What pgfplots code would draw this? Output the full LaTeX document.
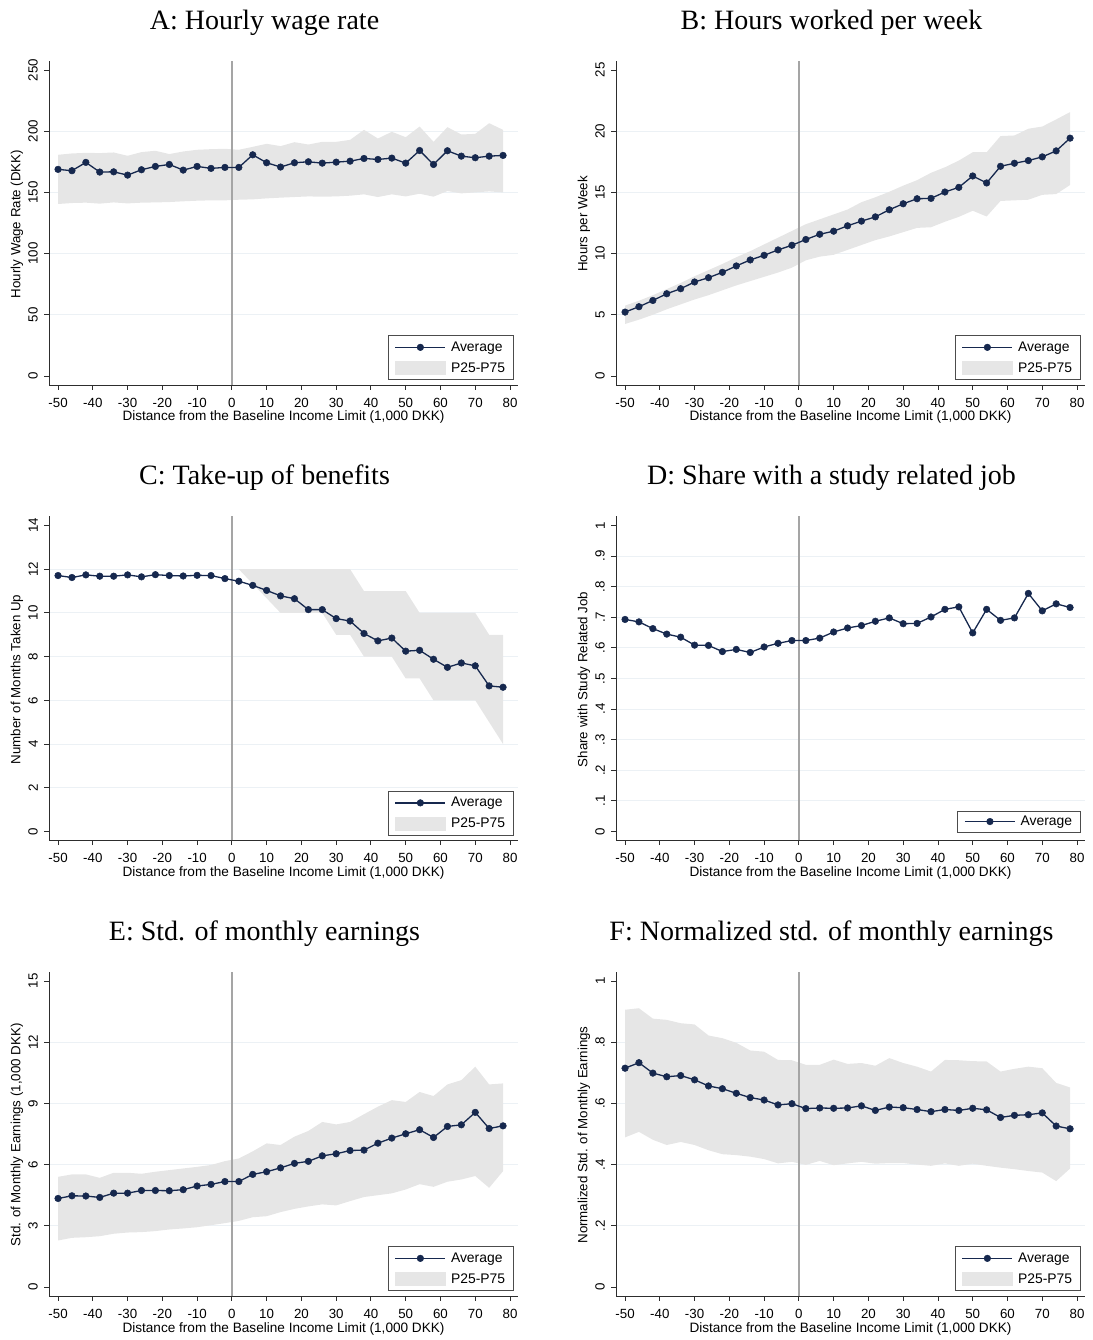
\documentclass[border=0pt]{standalone}
\usepackage{pgfplots}
\pgfplotsset{compat=1.18}
\usepackage{pgfplotstable}
\usepgfplotslibrary{fillbetween}
\usepackage{fontspec}
\setmainfont{Liberation Sans}
\newfontfamily\ttlfont{Liberation Serif}
\newcommand\tickfont{\fontsize{13.3}{15}\selectfont}
\newcommand\xlabfont{\fontsize{13.6}{15}\selectfont}
\newcommand\legfont{\fontsize{13.9}{15}\selectfont}

\definecolor{navyc}{RGB}{22,40,78}
\definecolor{bandc}{RGB}{230,230,230}
\definecolor{gridc}{RGB}{236,241,245}
\definecolor{zeroc}{RGB}{165,165,165}
\definecolor{axc}{RGB}{45,45,45}

\pgfplotstableread{
x avg lo hi
-50 168.8 140.5 180.7
-46 167.7 141.3 181.8
-42 174.5 141.6 182.3
-38 166.6 140.8 182.1
-34 166.8 141.8 182.6
-30 164.1 141.0 179.9
-26 168.5 141.6 182.9
-22 171.2 141.8 184.0
-18 172.8 142.1 181.3
-14 168.2 142.7 183.4
-10 171.2 143.2 184.8
-6 169.6 143.5 185.3
-2 170.4 143.5 185.6
2 170.4 144.0 184.8
6 180.7 144.3 187.2
10 174.2 145.1 189.7
14 170.7 145.7 187.8
18 174.2 146.2 191.0
22 175.0 146.7 189.1
26 173.9 146.5 191.3
30 174.7 146.7 191.3
34 175.5 147.3 192.9
38 177.7 148.4 201.1
42 176.9 146.2 194.0
46 178.0 148.4 199.5
50 173.9 146.7 195.1
54 184.2 148.9 203.8
58 172.8 146.5 191.3
62 184.0 151.1 203.3
66 179.6 149.2 197.3
70 178.3 150.0 197.8
74 179.6 150.8 206.5
78 180.2 150.0 201.1
}\dataA

\pgfplotstableread{
x avg lo hi
-50 5.22 4.25 5.75
-46 5.66 4.60 6.15
-42 6.17 5.00 6.60
-38 6.72 5.45 7.10
-34 7.13 5.85 7.60
-30 7.68 6.25 8.15
-26 8.03 6.60 8.65
-22 8.47 7.00 9.15
-18 8.99 7.40 9.70
-14 9.48 7.75 10.20
-10 9.86 8.10 10.75
-6 10.30 8.45 11.30
-2 10.68 8.85 11.85
2 11.15 9.45 12.40
6 11.58 9.75 12.80
10 11.83 9.90 13.20
14 12.27 10.30 13.60
18 12.65 10.70 14.20
22 13.00 11.10 14.60
26 13.58 11.40 15.05
30 14.07 11.75 15.55
34 14.48 12.10 16.00
38 14.51 12.15 16.60
42 15.03 12.60 17.05
46 15.41 13.00 17.60
50 16.34 13.50 18.28
54 15.77 13.03 18.28
58 17.13 14.30 19.60
62 17.38 14.35 19.65
66 17.60 14.40 20.20
70 17.90 14.80 20.38
74 18.39 14.86 20.96
78 19.43 15.60 21.56
}\dataB

\pgfplotstableread{
x avg
-50 11.71
-46 11.62
-42 11.74
-38 11.68
-34 11.68
-30 11.74
-26 11.65
-22 11.75
-18 11.71
-14 11.69
-10 11.72
-6 11.71
-2 11.57
2 11.45
6 11.26
10 11.03
14 10.78
18 10.65
22 10.15
26 10.15
30 9.74
34 9.63
38 9.06
42 8.72
46 8.85
50 8.25
54 8.29
58 7.88
62 7.51
66 7.71
70 7.58
74 6.66
78 6.60
}\dataC

\pgfplotstableread{
x lo hi
2 12 12
6 11.33 12
10 10.67 12
14 10 12
18 10 12
22 10 12
26 10 12
30 9 12
34 9 12
38 8 11
42 8 11
46 8 11
50 7 11
54 7 10
58 6 10
62 6 10
66 6 10
70 6 10
74 5 9
78 4 9
}\bandC

\pgfplotstableread{
x avg
-50 0.693
-46 0.685
-42 0.663
-38 0.645
-34 0.635
-30 0.609
-26 0.608
-22 0.588
-18 0.595
-14 0.585
-10 0.603
-6 0.615
-2 0.624
2 0.624
6 0.632
10 0.652
14 0.665
18 0.673
22 0.687
26 0.698
30 0.679
34 0.680
38 0.701
42 0.726
46 0.734
50 0.649
54 0.726
58 0.690
62 0.698
66 0.778
70 0.721
74 0.744
78 0.732
}\dataD

\pgfplotstableread{
x avg lo hi
-50 4.34 2.28 5.40
-46 4.47 2.41 5.52
-42 4.46 2.44 5.52
-38 4.39 2.49 5.35
-34 4.60 2.61 5.60
-30 4.60 2.67 5.60
-26 4.73 2.69 5.55
-22 4.73 2.74 5.65
-18 4.72 2.82 5.73
-14 4.77 2.87 5.81
-10 4.95 2.93 5.89
-6 5.03 3.03 5.98
-2 5.17 3.13 6.17
2 5.17 3.24 6.30
6 5.52 3.42 6.65
10 5.65 3.47 7.04
14 5.84 3.67 6.96
18 6.06 3.83 7.37
22 6.16 3.95 7.65
26 6.43 4.05 8.09
30 6.53 4.00 7.97
34 6.69 4.21 8.09
38 6.71 4.41 8.47
42 7.05 4.50 8.84
46 7.30 4.59 9.16
50 7.51 4.78 9.07
54 7.71 5.04 9.56
58 7.33 4.91 9.36
62 7.87 5.16 9.93
66 7.95 5.27 10.14
70 8.56 5.44 10.80
74 7.77 4.86 9.93
78 7.90 5.68 9.98
}\dataE

\pgfplotstableread{
x avg lo hi
-50 0.715 0.489 0.906
-46 0.733 0.507 0.911
-42 0.699 0.481 0.877
-38 0.687 0.464 0.873
-34 0.691 0.474 0.862
-30 0.677 0.464 0.858
-26 0.657 0.447 0.822
-22 0.648 0.434 0.813
-18 0.633 0.431 0.798
-14 0.619 0.426 0.773
-10 0.611 0.418 0.769
-6 0.595 0.404 0.742
-2 0.599 0.409 0.741
2 0.583 0.399 0.726
6 0.585 0.412 0.726
10 0.584 0.398 0.743
14 0.585 0.404 0.729
18 0.592 0.409 0.732
22 0.577 0.403 0.723
26 0.588 0.405 0.748
30 0.586 0.405 0.732
34 0.580 0.400 0.720
38 0.573 0.396 0.704
42 0.580 0.404 0.742
46 0.577 0.396 0.741
50 0.584 0.403 0.738
54 0.579 0.396 0.737
58 0.554 0.390 0.704
62 0.561 0.385 0.713
66 0.563 0.379 0.720
70 0.569 0.374 0.715
74 0.526 0.346 0.667
78 0.517 0.387 0.652
}\dataF

\pgfplotsset{
  panel/.style={
    scale only axis, width=469pt, height=324pt,
    xmin=-52.6, xmax=82.3,
    axis x line*=bottom, axis y line*=left,
    axis line style={-, draw=axc, line width=0.9pt},
    tick style={draw=axc, line width=0.9pt},
    tick align=outside, major tick length=4.7pt,
    xtick={-50,-40,-30,-20,-10,0,10,20,30,40,50,60,70,80},
    xticklabels={-50,-40,-30,-20,-10,0,10,20,30,40,50,60,70,80},
    ymajorgrids, grid style={draw=gridc, line width=0.9pt},
    extra y tick style={grid=none},
    ticklabel style={font=\tickfont},
    xticklabel style={anchor=north, inner sep=0pt},
    yticklabel style={rotate=90, anchor=south, inner sep=0pt},
    xticklabel shift=8pt, yticklabel shift=6.3pt,
    legend style={at={(1,0)}, anchor=south east, xshift=-4pt, yshift=5pt,
      draw=black!70, line width=0.8pt, fill=white, font=\legfont,
      inner xsep=6.5pt, inner ysep=4pt, row sep=5.5pt, column sep=3pt,
      cells={anchor=west}},
    legend cell align=left,
  },
  avgline/.style={color=navyc, line width=1.3pt, mark=*, mark size=3.3pt,
    mark options={fill=navyc, draw=navyc, line width=0.5pt}},
  avglegend/.style={legend image code/.code={\draw[mark repeat=2,mark phase=2,##1] plot coordinates {(0pt,0pt) (25pt,0pt) (50pt,0pt)};}},
  bandlegend/.style={legend image code/.code={\fill[bandc] (0pt,-6.5pt) rectangle (50pt,6.5pt);}},
  zeroline/.style={draw=zeroc, line width=1.4pt, forget plot},
}

\begin{document}
\begin{tikzpicture}

% ---------- A ----------
\begin{axis}[panel, at={(49pt,955pt)}, anchor=south west,
  ymin=-7.35, ymax=257.35,
  ytick={50,100,150,200}, yticklabels={50,100,150,200},
  extra y ticks={0,250}, extra y tick labels={0,250}]
\addlegendimage{avgline, avglegend}\addlegendentry{Average}
\addlegendimage{bandlegend}\addlegendentry{P25-P75}
\addplot[draw=none, name path=hiA, forget plot] table[x=x,y=hi]{\dataA};
\addplot[draw=none, name path=loA, forget plot] table[x=x,y=lo]{\dataA};
\addplot[fill=bandc, draw=none, forget plot] fill between[of=hiA and loA];
\addplot[zeroline] coordinates {(0,-7.35) (0,257.35)};
\addplot[avgline, forget plot] table[x=x,y=avg]{\dataA};
\end{axis}

% ---------- B ----------
\begin{axis}[panel, at={(616pt,955pt)}, anchor=south west,
  ymin=-0.735, ymax=25.735,
  ytick={5,10,15,20}, yticklabels={5,10,15,20},
  extra y ticks={0,25}, extra y tick labels={0,25}]
\addlegendimage{avgline, avglegend}\addlegendentry{Average}
\addlegendimage{bandlegend}\addlegendentry{P25-P75}
\addplot[draw=none, name path=hiB, forget plot] table[x=x,y=hi]{\dataB};
\addplot[draw=none, name path=loB, forget plot] table[x=x,y=lo]{\dataB};
\addplot[fill=bandc, draw=none, forget plot] fill between[of=hiB and loB];
\addplot[zeroline] coordinates {(0,-0.735) (0,25.735)};
\addplot[avgline, forget plot] table[x=x,y=avg]{\dataB};
\end{axis}

% ---------- C ----------
\begin{axis}[panel, at={(49pt,499.5pt)}, anchor=south west,
  ymin=-0.412, ymax=14.412,
  ytick={2,4,6,8,10,12}, yticklabels={2,4,6,8,10,12},
  extra y ticks={0,14}, extra y tick labels={0,14}]
\addlegendimage{avgline, avglegend}\addlegendentry{Average}
\addlegendimage{bandlegend}\addlegendentry{P25-P75}
\addplot[draw=none, name path=hiC, forget plot] table[x=x,y=hi]{\bandC};
\addplot[draw=none, name path=loC, forget plot] table[x=x,y=lo]{\bandC};
\addplot[fill=bandc, draw=none, forget plot] fill between[of=hiC and loC];
\addplot[zeroline] coordinates {(0,-0.412) (0,14.412)};
\addplot[avgline, forget plot] table[x=x,y=avg]{\dataC};
\end{axis}

% ---------- D ----------
\begin{axis}[panel, at={(616pt,499.5pt)}, anchor=south west,
  ymin=-0.0294, ymax=1.0294,
  ytick={0.1,0.2,0.3,0.4,0.5,0.6,0.7,0.8,0.9},
  yticklabels={.1,.2,.3,.4,.5,.6,.7,.8,.9},
  extra y ticks={0,1}, extra y tick labels={0,1},
  legend style={yshift=3pt, inner ysep=3pt}]
\addlegendimage{avgline, avglegend}\addlegendentry{Average}
\addplot[zeroline] coordinates {(0,-0.0294) (0,1.0294)};
\addplot[avgline, forget plot] table[x=x,y=avg]{\dataD};
\end{axis}

% ---------- E ----------
\begin{axis}[panel, at={(49pt,44pt)}, anchor=south west,
  ymin=-0.441, ymax=15.441,
  ytick={3,6,9,12}, yticklabels={3,6,9,12},
  extra y ticks={0,15}, extra y tick labels={0,15}]
\addlegendimage{avgline, avglegend}\addlegendentry{Average}
\addlegendimage{bandlegend}\addlegendentry{P25-P75}
\addplot[draw=none, name path=hiE, forget plot] table[x=x,y=hi]{\dataE};
\addplot[draw=none, name path=loE, forget plot] table[x=x,y=lo]{\dataE};
\addplot[fill=bandc, draw=none, forget plot] fill between[of=hiE and loE];
\addplot[zeroline] coordinates {(0,-0.441) (0,15.441)};
\addplot[avgline, forget plot] table[x=x,y=avg]{\dataE};
\end{axis}

% ---------- F ----------
\begin{axis}[panel, at={(616pt,44pt)}, anchor=south west,
  ymin=-0.0294, ymax=1.0294,
  ytick={0.2,0.4,0.6,0.8}, yticklabels={.2,.4,.6,.8},
  extra y ticks={0,1}, extra y tick labels={0,1}]
\addlegendimage{avgline, avglegend}\addlegendentry{Average}
\addlegendimage{bandlegend}\addlegendentry{P25-P75}
\addplot[draw=none, name path=hiF, forget plot] table[x=x,y=hi]{\dataF};
\addplot[draw=none, name path=loF, forget plot] table[x=x,y=lo]{\dataF};
\addplot[fill=bandc, draw=none, forget plot] fill between[of=hiF and loF];
\addplot[zeroline] coordinates {(0,-0.0294) (0,1.0294)};
\addplot[avgline, forget plot] table[x=x,y=avg]{\dataF};
\end{axis}

% ---------- titles ----------
\begin{scope}[every node/.style={inner sep=0pt}]
\node[anchor=base, font=\ttlfont\fontsize{28}{32}\selectfont] at (264.5pt,1310.7pt) {A: Hourly wage rate};
\node[anchor=base, font=\ttlfont\fontsize{28}{32}\selectfont] at (831.5pt,1310.7pt) {B: Hours worked per week};
\node[anchor=base, font=\ttlfont\fontsize{28}{32}\selectfont] at (264.5pt,855.2pt) {C: Take-up of benefits};
\node[anchor=base, font=\ttlfont\fontsize{28}{32}\selectfont] at (831.5pt,855.2pt) {D: Share with a study related job};
\node[anchor=base, font=\ttlfont\fontsize{28}{32}\selectfont] at (264.5pt,399.7pt) {E: Std. of monthly earnings};
\node[anchor=base, font=\ttlfont\fontsize{28}{32}\selectfont] at (831.5pt,399.7pt) {F: Normalized std. of monthly earnings};
\foreach \xc/\yc in {283.5/919, 850.5/919, 283.5/463.5, 850.5/463.5, 283.5/8, 850.5/8}
  \node[anchor=base, font=\xlabfont] at (\xc pt,\yc pt) {Distance from the Baseline Income Limit (1,000 DKK)};
\node[rotate=90, font=\tickfont] at (17pt,1116pt) {Hourly Wage Rate (DKK)};
\node[rotate=90, font=\tickfont] at (584pt,1116pt) {Hours per Week};
\node[rotate=90, font=\tickfont] at (17pt,660.5pt) {Number of Months Taken Up};
\node[rotate=90, font=\tickfont] at (584pt,660.5pt) {Share with Study Related Job};
\node[rotate=90, font=\tickfont] at (17pt,205pt) {Std. of Monthly Earnings (1,000 DKK)};
\node[rotate=90, font=\tickfont] at (584pt,205pt) {Normalized Std. of Monthly Earnings};
\end{scope}
\pgfresetboundingbox
\useasboundingbox (0,0) rectangle (1092pt,1340pt);
\end{tikzpicture}
\end{document}
